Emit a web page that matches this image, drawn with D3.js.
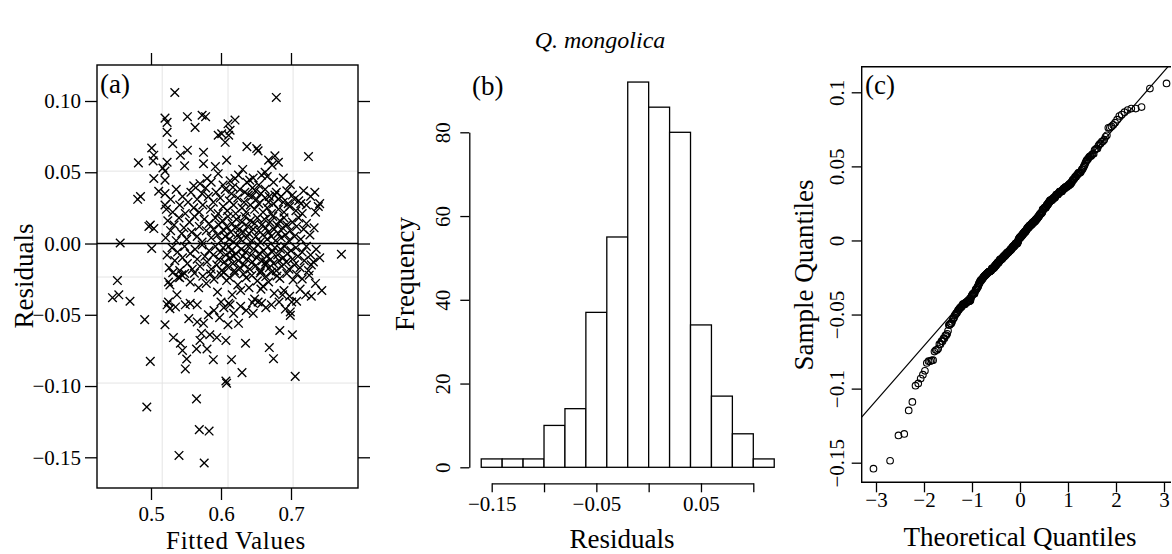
<!DOCTYPE html>
<html>
<head>
<meta charset="utf-8">
<script src="https://cdn.jsdelivr.net/npm/d3@7"></script>
<style>
  body { margin: 0; background: #fff; }
  svg { display: block; font-family: "Liberation Serif", "DejaVu Serif", serif; }
</style>
</head>
<body>
<svg id="chart" width="1172" height="554"></svg>
<script>
// ---- data ----

// (a) residuals vs fitted: the scattered points that can be read one by one
const outerPoints = [
  [0.534,0.106],[0.679,0.1025],
  [0.520,0.088],[0.523,0.085],[0.552,0.089],[0.573,0.090],[0.578,0.089],[0.563,0.0815],[0.610,0.084],[0.620,0.0866],
  [0.523,0.078],[0.531,0.070],[0.501,0.067],[0.552,0.0655],[0.542,0.062],[0.575,0.064],[0.504,0.062],[0.596,0.076],[0.601,0.077],
  [0.606,0.071],[0.613,0.0795],[0.637,0.068],[0.651,0.0667],[0.653,0.065],[0.677,0.0615],[0.725,0.061],[0.611,0.076],
  [0.482,0.0566],[0.503,0.058],[0.523,0.057],[0.548,0.0545],[0.575,0.056],[0.520,0.0508],[0.504,0.0456],[0.520,0.0445],[0.580,0.0456],
  [0.517,0.053],[0.668,0.0585],[0.673,0.055],[0.682,0.057],[0.663,0.050],[0.658,0.048],[0.625,0.048],[0.620,0.0456],[0.641,0.0445],
  [0.699,0.0414],[0.608,0.0585],[0.561,0.0405],[0.666,0.047],
  [0.481,0.031],[0.485,0.033],[0.511,0.0367],[0.520,0.035],[0.573,0.035],[0.520,0.027],[0.718,0.037],[0.734,0.036],[0.741,0.028],[0.739,0.026],
  [0.634,0.036],[0.644,0.033],[0.649,0.037],[0.663,0.032],[0.668,0.029],[0.677,0.034],[0.682,0.031],[0.689,0.029],[0.696,0.028],[0.705,0.031],[0.714,0.028],
  [0.456,0.0004],[0.499,0.0129],[0.504,0.0105],[0.497,0.012],
  [0.501,-0.0035],[0.772,-0.0075],[0.729,-0.015],
  [0.452,-0.026],[0.454,-0.036],[0.445,-0.038],[0.525,-0.027],[0.527,-0.029],[0.539,-0.0235],[0.544,-0.022],[0.537,-0.036],
  [0.744,-0.033],[0.729,-0.037],[0.713,-0.032],[0.721,-0.036],[0.688,-0.036],[0.690,-0.033],
  [0.491,-0.0534],[0.520,-0.057],[0.610,-0.057],[0.625,-0.056],[0.646,-0.049],[0.699,-0.048],[0.699,-0.0504],[0.470,-0.0405],
  [0.525,-0.041],[0.523,-0.043],[0.527,-0.0457],[0.535,-0.0445],[0.549,-0.043],[0.556,-0.042],[0.566,-0.043],[0.554,-0.0527],
  [0.566,-0.055],[0.575,-0.056],[0.611,-0.042],[0.613,-0.043],[0.653,-0.041],[0.658,-0.042],[0.683,-0.041],[0.701,-0.041],[0.708,-0.0405],
  [0.532,-0.066],[0.542,-0.070],[0.545,-0.075],[0.565,-0.074],[0.570,-0.068],[0.580,-0.074],[0.572,-0.063],[0.584,-0.064],
  [0.594,-0.066],[0.607,-0.068],[0.635,-0.070],[0.669,-0.073],[0.684,-0.061],[0.702,-0.064],
  [0.499,-0.0827],[0.551,-0.081],[0.549,-0.088],[0.589,-0.0815],[0.615,-0.0815],[0.630,-0.0906],[0.607,-0.0965],[0.608,-0.098],
  [0.675,-0.0808],[0.706,-0.0932],
  [0.494,-0.1147],[0.565,-0.109],
  [0.569,-0.1306],[0.583,-0.1316],
  [0.540,-0.1487],[0.576,-0.154]
];

// (a) the dense core, estimated band by band
const corePoints = [
  // 0.04 .. 0.06
  [0.570,0.042],[0.586,0.043],[0.596,0.049],[0.603,0.041],[0.613,0.044],[0.631,0.052],[0.637,0.043],[0.646,0.046],
  [0.654,0.041],[0.675,0.043],[0.689,0.046],[0.592,0.054],
  // 0.02 .. 0.04
  [0.522,0.024],[0.528,0.031],[0.531,0.022],[0.536,0.038],[0.541,0.027],[0.545,0.033],[0.549,0.021],[0.553,0.029],
  [0.557,0.036],[0.561,0.025],[0.566,0.031],[0.569,0.022],[0.574,0.027],[0.578,0.039],[0.582,0.033],[0.585,0.024],
  [0.589,0.029],[0.593,0.036],[0.596,0.021],[0.599,0.032],[0.603,0.026],[0.606,0.038],[0.609,0.023],[0.612,0.030],
  [0.615,0.035],[0.618,0.027],[0.621,0.021],[0.624,0.032],[0.627,0.038],[0.630,0.025],[0.633,0.029],[0.636,0.022],
  [0.639,0.034],[0.642,0.027],[0.645,0.039],[0.648,0.024],[0.651,0.031],[0.654,0.028],[0.657,0.035],[0.660,0.022],
  [0.663,0.038],[0.666,0.025],[0.669,0.033],[0.672,0.021],[0.675,0.028],[0.679,0.036],[0.682,0.024],[0.686,0.033],
  [0.690,0.022],[0.694,0.037],[0.698,0.026],[0.702,0.034],[0.707,0.023],[0.711,0.030],[0.716,0.021],[0.722,0.027],
  [0.728,0.033],[0.735,0.022],[0.617,0.0395],
  // 0.00 .. 0.02
  [0.521,0.004],[0.524,0.016],[0.528,0.009],[0.533,0.013],[0.536,0.002],[0.540,0.018],[0.544,0.007],[0.547,0.011],
  [0.551,0.003],[0.555,0.015],[0.558,0.008],[0.562,0.019],[0.566,0.005],[0.569,0.012],[0.573,0.001],[0.576,0.017],
  [0.579,0.009],[0.583,0.014],[0.586,0.004],[0.589,0.010],[0.592,0.018],[0.595,0.006],[0.597,0.013],[0.600,0.002],
  [0.602,0.016],[0.604,0.009],[0.606,0.005],[0.608,0.012],[0.610,0.019],[0.612,0.003],[0.614,0.008],[0.616,0.014],
  [0.618,0.001],[0.620,0.011],[0.622,0.017],[0.624,0.006],[0.626,0.010],[0.628,0.003],[0.630,0.015],[0.632,0.008],
  [0.634,0.019],[0.636,0.004],[0.638,0.012],[0.640,0.007],[0.642,0.016],[0.644,0.002],[0.646,0.010],[0.648,0.014],
  [0.650,0.005],[0.652,0.018],[0.654,0.009],[0.656,0.001],[0.658,0.013],[0.660,0.006],[0.662,0.017],[0.664,0.011],
  [0.666,0.003],[0.668,0.008],[0.670,0.015],[0.672,0.005],[0.674,0.019],[0.676,0.010],[0.678,0.002],[0.680,0.013],
  [0.682,0.007],[0.684,0.016],[0.686,0.004],[0.688,0.011],[0.690,0.018],[0.692,0.006],[0.694,0.013],[0.697,0.002],
  [0.699,0.009],[0.702,0.015],[0.705,0.005],[0.708,0.012],[0.711,0.018],[0.714,0.003],[0.718,0.010],[0.722,0.014],
  [0.727,0.006],[0.733,0.011],
  // -0.02 .. 0.00
  [0.523,-0.008],[0.526,-0.017],[0.530,-0.003],[0.534,-0.012],[0.538,-0.006],[0.541,-0.019],[0.545,-0.010],[0.548,-0.002],
  [0.552,-0.014],[0.556,-0.007],[0.559,-0.018],[0.563,-0.004],[0.566,-0.011],[0.570,-0.016],[0.573,-0.001],[0.577,-0.009],
  [0.580,-0.013],[0.583,-0.005],[0.586,-0.018],[0.589,-0.008],[0.592,-0.002],[0.594,-0.015],[0.597,-0.011],[0.599,-0.006],
  [0.601,-0.019],[0.603,-0.003],[0.605,-0.013],[0.607,-0.008],[0.609,-0.016],[0.611,-0.002],[0.613,-0.010],[0.615,-0.005],
  [0.617,-0.014],[0.619,-0.019],[0.621,-0.007],[0.623,-0.001],[0.625,-0.012],[0.627,-0.017],[0.629,-0.004],[0.631,-0.009],
  [0.633,-0.015],[0.635,-0.006],[0.637,-0.011],[0.639,-0.002],[0.641,-0.018],[0.643,-0.008],[0.645,-0.013],[0.647,-0.004],
  [0.649,-0.016],[0.651,-0.010],[0.653,-0.001],[0.655,-0.007],[0.657,-0.019],[0.659,-0.012],[0.661,-0.005],[0.663,-0.015],
  [0.665,-0.009],[0.667,-0.002],[0.669,-0.017],[0.671,-0.011],[0.673,-0.006],[0.675,-0.014],[0.677,-0.003],[0.679,-0.019],
  [0.681,-0.008],[0.683,-0.012],[0.685,-0.004],[0.687,-0.016],[0.689,-0.010],[0.691,-0.002],[0.693,-0.013],[0.695,-0.007],
  [0.697,-0.018],[0.700,-0.005],[0.702,-0.011],[0.705,-0.015],[0.707,-0.003],[0.710,-0.009],[0.713,-0.017],[0.716,-0.006],
  [0.719,-0.012],[0.722,-0.002],[0.725,-0.019],[0.728,-0.008],[0.732,-0.013],[0.736,-0.004],[0.741,-0.010],[0.618,-0.009],
  [0.664,-0.013],
  // -0.04 .. -0.02
  [0.531,-0.0205],[0.541,-0.024],[0.548,-0.021],[0.556,-0.027],[0.562,-0.0208],[0.568,-0.031],[0.574,-0.023],[0.579,-0.028],
  [0.585,-0.0212],[0.590,-0.025],[0.595,-0.034],[0.600,-0.022],[0.604,-0.0203],[0.608,-0.026],[0.612,-0.0238],[0.616,-0.036],
  [0.620,-0.0209],[0.624,-0.029],[0.628,-0.033],[0.632,-0.0214],[0.636,-0.024],[0.640,-0.031],[0.644,-0.0225],[0.648,-0.039],
  [0.652,-0.0262],[0.656,-0.0206],[0.660,-0.030],[0.664,-0.0232],[0.668,-0.027],[0.672,-0.0201],[0.676,-0.035],[0.680,-0.0228],
  [0.684,-0.0245],[0.694,-0.0211],[0.698,-0.037],[0.703,-0.0255],[0.708,-0.0216],[0.716,-0.0248],[0.726,-0.0222],[0.735,-0.028],
  [0.657,-0.032],
  // -0.06 .. -0.04
  [0.582,-0.050],[0.590,-0.047],[0.598,-0.052],[0.604,-0.045],[0.618,-0.049],[0.628,-0.044],[0.636,-0.047],[0.664,-0.045],
  [0.672,-0.043],[0.692,-0.046],[0.600,-0.041],[0.645,-0.0415]
];

const fittedTicks = [0.5, 0.6, 0.7];
const residualTicks = [-0.15, -0.10, -0.05, 0.00, 0.05, 0.10];
const gridX = [0.516, 0.610, 0.703];
const gridY = [0.0508, -0.0235, -0.0979];

// (b) histogram of residuals
const binEdges = [-0.16,-0.14,-0.12,-0.10,-0.08,-0.06,-0.04,-0.02,0.00,0.02,0.04,0.06,0.08,0.10,0.12];
const histCounts = [2, 2, 2, 10, 14, 37, 55, 92, 86, 80, 34, 17, 8, 2];
const histXTicks = [-0.15, -0.10, -0.05, 0.00, 0.05, 0.10];
const histXLabels = ['−0.15', '', '−0.05', '', '0.05', ''];
const freqTicks = [0, 20, 40, 60, 80];

// (c) normal Q-Q
const theoTicks = [-3, -2, -1, 0, 1, 2, 3];
const sampleTicks = [-0.15, -0.10, -0.05, 0, 0.05, 0.10];
const sampleLabels = ['−0.15', '−0.1', '−0.05', '0', '0.05', '0.1'];

// ---- drawing ----
const svg = d3.select('#chart');
const serif = '"Liberation Serif", "DejaVu Serif", serif';
const tickFont = 21, labFont = 27;

function styleAxis(g) {
  g.attr('font-family', serif).attr('font-size', tickFont);
  g.selectAll('.tick line').attr('stroke', '#000').attr('stroke-width', 1.3);
  g.selectAll('.tick text').attr('fill', '#000');
  g.select('.domain').attr('stroke', '#000').attr('stroke-width', 1.3);
}

function rotLabel(x, y, text, size) {
  svg.append('text')
    .attr('transform', `translate(${x},${y}) rotate(-90)`)
    .attr('text-anchor', 'middle')
    .attr('font-size', size)
    .text(text);
}

// title
svg.append('text').attr('x', 600).attr('y', 48).attr('text-anchor', 'middle')
  .attr('font-size', 24).attr('font-style', 'italic').text('Q. mongolica');

// ===== (a) =====
const aBox = { x0: 97, x1: 358, y0: 65, y1: 488 };
const ax = d3.scaleLinear().domain([0.5, 0.7]).range([151, 291]);
const ay = d3.scaleLinear().domain([-0.15, 0.10]).range([457.3, 101]);

const gA = svg.append('g');
gA.selectAll('line.gx').data(gridX).join('line').attr('class', 'gx')
  .attr('x1', d => ax(d)).attr('x2', d => ax(d)).attr('y1', aBox.y0).attr('y2', aBox.y1)
  .attr('stroke', '#e4e4e4').attr('stroke-width', 1);
gA.selectAll('line.gy').data(gridY).join('line').attr('class', 'gy')
  .attr('y1', d => ay(d)).attr('y2', d => ay(d)).attr('x1', aBox.x0).attr('x2', aBox.x1)
  .attr('stroke', '#e4e4e4').attr('stroke-width', 1);

gA.append('line').attr('x1', aBox.x0).attr('x2', aBox.x1).attr('y1', ay(0)).attr('y2', ay(0))
  .attr('stroke', '#000').attr('stroke-width', 1.3);

const fmt2 = d3.format('.2f');
gA.append('g').attr('transform', `translate(${aBox.x0},0)`)
  .call(d3.axisLeft(ay).tickValues(residualTicks).tickSize(12).tickPadding(4).tickFormat(fmt2))
  .call(g => g.select('.domain').remove()).call(styleAxis);
gA.append('g').attr('transform', `translate(${aBox.x1},0)`)
  .call(d3.axisRight(ay).tickValues(residualTicks).tickSize(12).tickFormat(''))
  .call(g => g.select('.domain').remove()).call(styleAxis);
gA.append('g').attr('transform', `translate(0,${aBox.y1})`)
  .call(d3.axisBottom(ax).tickValues(fittedTicks).tickSize(12).tickPadding(6).tickFormat(d3.format('.1f')))
  .call(g => g.select('.domain').remove()).call(styleAxis);
gA.append('g').attr('transform', `translate(0,${aBox.y0})`)
  .call(d3.axisTop(ax).tickValues(fittedTicks).tickSize(12).tickFormat(''))
  .call(g => g.select('.domain').remove()).call(styleAxis);

const allPoints = outerPoints.concat(corePoints);
const cr = 4.3;
gA.append('g').selectAll('path').data(allPoints).join('path')
  .attr('d', d => {
    const x = ax(d[0]), y = ay(d[1]);
    return `M${x - cr},${y - cr}L${x + cr},${y + cr}M${x - cr},${y + cr}L${x + cr},${y - cr}`;
  })
  .attr('stroke', '#000').attr('stroke-width', 1.35).attr('fill', 'none');

gA.append('rect').attr('x', aBox.x0).attr('y', aBox.y0)
  .attr('width', aBox.x1 - aBox.x0).attr('height', aBox.y1 - aBox.y0)
  .attr('fill', 'none').attr('stroke', '#000').attr('stroke-width', 1.4);

svg.append('text').attr('x', 100).attr('y', 93).attr('font-size', labFont).text('(a)');
svg.append('text').attr('x', 236).attr('y', 548.5).attr('text-anchor', 'middle')
  .attr('font-size', 25).attr('letter-spacing', 0.7).text('Fitted Values');
rotLabel(33, 276, 'Residuals', labFont);

// ===== (b) =====
const bx = d3.scaleLinear().domain([-0.15, 0.10]).range([491.7, 753.3]);
const by = d3.scaleLinear().domain([0, 80]).range([467.3, 132.3]);
const bins = histCounts.map((n, i) => ({ x0: binEdges[i], x1: binEdges[i + 1], n }));

svg.append('g').selectAll('rect').data(bins).join('rect')
  .attr('x', d => bx(d.x0)).attr('width', d => bx(d.x1) - bx(d.x0))
  .attr('y', d => by(d.n)).attr('height', d => by(0) - by(d.n))
  .attr('fill', '#fff').attr('stroke', '#000').attr('stroke-width', 1.3);

const gBy = svg.append('g').attr('transform', 'translate(469.3,0)')
  .call(d3.axisLeft(by).tickValues(freqTicks).tickSize(9).tickSizeOuter(0))
  .call(styleAxis);
gBy.selectAll('.tick text')
  .attr('transform', 'rotate(-90)').attr('x', 0).attr('y', -19).attr('dy', 0)
  .attr('text-anchor', 'middle');

svg.append('g').attr('transform', 'translate(0,483.3)')
  .call(d3.axisBottom(bx).tickValues(histXTicks).tickSize(9).tickSizeOuter(0).tickPadding(4)
    .tickFormat((d, i) => histXLabels[i]))
  .call(styleAxis);

svg.append('text').attr('x', 472).attr('y', 95).attr('font-size', labFont).text('(b)');
svg.append('text').attr('x', 622).attr('y', 548).attr('text-anchor', 'middle').attr('font-size', labFont).text('Residuals');
rotLabel(414, 274, 'Frequency', labFont);

// ===== (c) =====
function qnorm(p) {
  const a = [-39.69683028665376, 220.9460984245205, -275.9285104469687, 138.3577518672690, -30.66479806614716, 2.506628277459239];
  const b = [-54.47609879822406, 161.5858368580409, -155.6989798598866, 66.80131188771972, -13.28068155288572];
  const c = [-0.007784894002430293, -0.3223964580411365, -2.400758277161838, -2.549732539343734, 4.374664141464968, 2.938163982698783];
  const d = [0.007784695709041462, 0.3224671290700398, 2.445134137142996, 3.754408661907416];
  const pl = 0.02425;
  if (p < pl) {
    const q = Math.sqrt(-2 * Math.log(p));
    return (((((c[0]*q+c[1])*q+c[2])*q+c[3])*q+c[4])*q+c[5]) / ((((d[0]*q+d[1])*q+d[2])*q+d[3])*q+1);
  }
  if (p > 1 - pl) return -qnorm(1 - p);
  const q = p - 0.5, r = q * q;
  return (((((a[0]*r+a[1])*r+a[2])*r+a[3])*r+a[4])*r+a[5])*q / (((((b[0]*r+b[1])*r+b[2])*r+b[3])*r+b[4])*r+1);
}

const cBox = { x0: 861.7, x1: 1171, y0: 66.7, y1: 482.3 };
const cx = d3.scaleLinear().domain([-3, 3]).range([876, 1164]);
const cy = d3.scaleLinear().domain([-0.15, 0.10]).range([462.7, 92.3]);

// sample quantiles are the residuals of panel (a), sorted
const sorted = allPoints.map(d => d[1]).sort(d3.ascending);
const n = sorted.length;
const qq = sorted.map((v, i) => [qnorm((i + 0.5) / n), v]);
const q1 = d3.quantile(sorted, 0.25), q3 = d3.quantile(sorted, 0.75);
const slope = (q3 - q1) / (qnorm(0.75) - qnorm(0.25));
const inter = q1 - slope * qnorm(0.25);

svg.append('clipPath').attr('id', 'cclip').append('rect')
  .attr('x', cBox.x0).attr('y', cBox.y0).attr('width', cBox.x1 - cBox.x0).attr('height', cBox.y1 - cBox.y0);

const lx0 = cx.invert(cBox.x0), lx1 = cx.invert(cBox.x1);
svg.append('line').attr('clip-path', 'url(#cclip)')
  .attr('x1', cx(lx0)).attr('y1', cy(inter + slope * lx0))
  .attr('x2', cx(lx1)).attr('y2', cy(inter + slope * lx1))
  .attr('stroke', '#000').attr('stroke-width', 1.2);

svg.append('g').selectAll('circle').data(qq).join('circle')
  .attr('cx', d => cx(d[0])).attr('cy', d => cy(d[1])).attr('r', 3.3)
  .attr('fill', 'none').attr('stroke', '#000').attr('stroke-width', 1.1);

svg.append('path')
  .attr('d', `M${cBox.x1},${cBox.y0}H${cBox.x0}V${cBox.y1}H${cBox.x1}`)
  .attr('fill', 'none').attr('stroke', '#000').attr('stroke-width', 1.4);

const gCy = svg.append('g').attr('transform', `translate(${cBox.x0},0)`)
  .call(d3.axisLeft(cy).tickValues(sampleTicks).tickSize(10).tickFormat((d, i) => sampleLabels[i]))
  .call(g => g.select('.domain').remove()).call(styleAxis);
gCy.selectAll('.tick text')
  .attr('transform', 'rotate(-90)').attr('x', 0).attr('y', -18).attr('dy', 0)
  .attr('text-anchor', 'middle');

svg.append('g').attr('transform', `translate(0,${cBox.y1})`)
  .call(d3.axisBottom(cx).tickValues(theoTicks).tickSize(10).tickPadding(0).tickFormat(d3.format('d')))
  .call(g => g.select('.domain').remove()).call(styleAxis);

svg.append('text').attr('x', 865).attr('y', 94).attr('font-size', labFont).text('(c)');
svg.append('text').attr('x', 1020).attr('y', 546).attr('text-anchor', 'middle').attr('font-size', labFont).text('Theoretical Quantiles');
rotLabel(813, 275, 'Sample Quantiles', labFont);
</script>
</body>
</html>
